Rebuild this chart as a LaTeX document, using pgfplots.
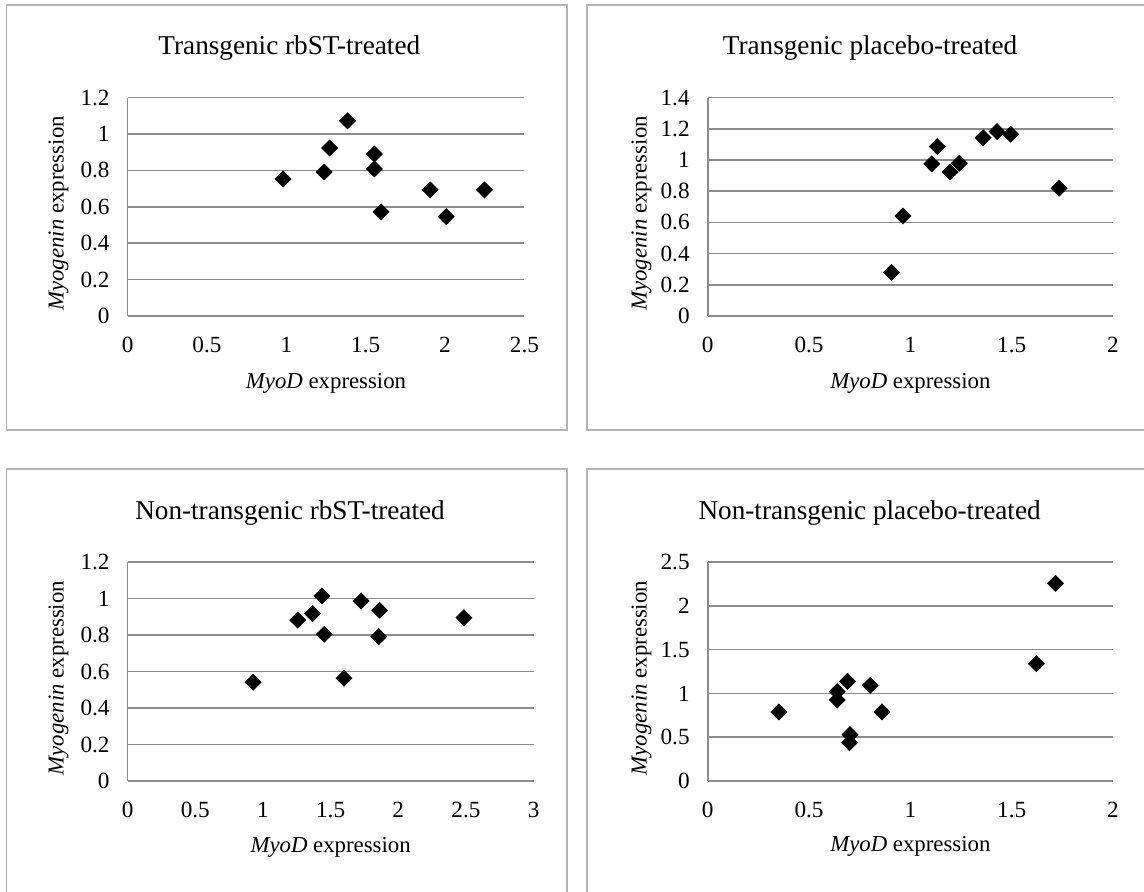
\documentclass[border=0pt]{standalone}
\usepackage{fontspec}
\setmainfont{Liberation Serif}
\usepackage{pgfplots}
\pgfplotsset{compat=1.18}
\definecolor{gridc}{HTML}{8C8C8C}
\definecolor{boxc}{HTML}{B4B4B4}
\pgfplotsset{
  panel/.style={
    scale only axis,
    anchor=south west,
    axis x line=bottom, axis y line=left,
    axis line style={-, gridc, line width=0.8pt},
    ymajorgrids, grid style={gridc, line width=0.8pt},
    major tick length=0pt,
    xmin=0, ymin=0,
    tick label style={font=\fontsize{11.6}{13}\selectfont},
    /pgf/number format/assume math mode=true,
    xticklabel shift=7pt, yticklabel shift=5.5pt,
    label style={font=\fontsize{11.4}{13}\selectfont},
    xlabel={\textit{MyoD} expression},
    ylabel={\textit{Myogenin} expression},
    clip=false,
  },
  dia/.style={only marks, mark=square*, mark size=2.8pt, mark options={rotate=45, fill=black, draw=black}},
}
\begin{document}
\begin{tikzpicture}
\path[use as bounding box] (0,0) rectangle (572pt,446pt);
\draw[boxc, line width=0.8pt] (3.3pt,231pt) rectangle (283.5pt,443.5pt);
\draw[boxc, line width=0.8pt] (580pt,443.5pt) -- (293.35pt,443.5pt) -- (293.35pt,231pt) -- (580pt,231pt);
\draw[boxc, line width=0.8pt] (3.3pt,-5pt) -- (3.3pt,211.35pt) -- (283.5pt,211.35pt) -- (283.5pt,-5pt);
\draw[boxc, line width=0.8pt] (293.35pt,-5pt) -- (293.35pt,211.35pt) -- (580pt,211.35pt);
\node[anchor=base, font=\fontsize{13.6}{16}\selectfont] at (144.65pt,418.5pt) {Transgenic rbST-treated};
\node[anchor=base, font=\fontsize{13.6}{16}\selectfont] at (435pt,418.5pt) {Transgenic placebo-treated};
\node[anchor=base, font=\fontsize{13.6}{16}\selectfont] at (145pt,186pt) {Non-transgenic rbST-treated};
\node[anchor=base, font=\fontsize{13.6}{16}\selectfont] at (434.8pt,186pt) {Non-transgenic placebo-treated};

% Panel 1
\begin{axis}[panel, at={(63.8pt,288pt)}, width=198.4pt, height=109.2pt,
  xmax=2.5, ymax=1.2, xtick={0,0.5,...,2.5}, ytick={0,0.2,...,1.2},
  xticklabels={0,0.5,1,1.5,2,2.5}, yticklabels={0,0.2,0.4,0.6,0.8,1,1.2},
  ylabel style={at={(axis description cs:-0.174,0.47)}, anchor=center, rotate=0},
  xlabel style={at={(axis description cs:0.5,-0.307)}, anchor=center}]
\addplot[dia] coordinates {(0.98,0.753) (1.238,0.791) (1.273,0.923) (1.386,1.072) (1.555,0.890) (1.555,0.808) (1.597,0.572) (1.906,0.693) (2.008,0.546) (2.248,0.693)};
\end{axis}

% Panel 2
\begin{axis}[panel, at={(353.85pt,288pt)}, width=202.65pt, height=109.2pt,
  xmax=2, ymax=1.4, xtick={0,0.5,...,2}, ytick={0,0.2,...,1.4},
  xticklabels={0,0.5,1,1.5,2}, yticklabels={0,0.2,0.4,0.6,0.8,1,1.2,1.4},
  ylabel style={at={(axis description cs:-0.163,0.47)}, anchor=center, rotate=0},
  xlabel style={at={(axis description cs:0.5,-0.307)}, anchor=center}]
\addplot[dia] coordinates {(0.907,0.280) (0.963,0.641) (1.106,0.975) (1.133,1.086) (1.196,0.923) (1.242,0.979) (1.359,1.143) (1.428,1.182) (1.495,1.165) (1.734,0.819)};
\end{axis}

% Panel 3
\begin{axis}[panel, at={(63.8pt,55.5pt)}, width=203pt, height=109.5pt,
  xmax=3, ymax=1.2, xtick={0,0.5,...,3}, ytick={0,0.2,...,1.2},
  xticklabels={0,0.5,1,1.5,2,2.5,3}, yticklabels={0,0.2,0.4,0.6,0.8,1,1.2},
  ylabel style={at={(axis description cs:-0.170,0.47)}, anchor=center, rotate=0},
  xlabel style={at={(axis description cs:0.5,-0.305)}, anchor=center}]
\addplot[dia] coordinates {(0.927,0.541) (1.257,0.882) (1.366,0.917) (1.436,1.014) (1.453,0.804) (1.599,0.563) (1.726,0.986) (1.862,0.935) (1.856,0.791) (2.485,0.895)};
\end{axis}

% Panel 4
\begin{axis}[panel, at={(353.85pt,55.5pt)}, width=202.65pt, height=109.5pt,
  xmax=2, ymax=2.5, xtick={0,0.5,...,2}, ytick={0,0.5,...,2.5},
  xticklabels={0,0.5,1,1.5,2}, yticklabels={0,0.5,1,1.5,2,2.5},
  ylabel style={at={(axis description cs:-0.163,0.47)}, anchor=center, rotate=0},
  xlabel style={at={(axis description cs:0.5,-0.297)}, anchor=center}]
\addplot[dia] coordinates {(0.351,0.788) (0.639,1.020) (0.639,0.925) (0.690,1.138) (0.802,1.092) (0.860,0.788) (0.702,0.529) (0.700,0.438) (1.622,1.339) (1.716,2.256)};
\end{axis}
\end{tikzpicture}
\end{document}
